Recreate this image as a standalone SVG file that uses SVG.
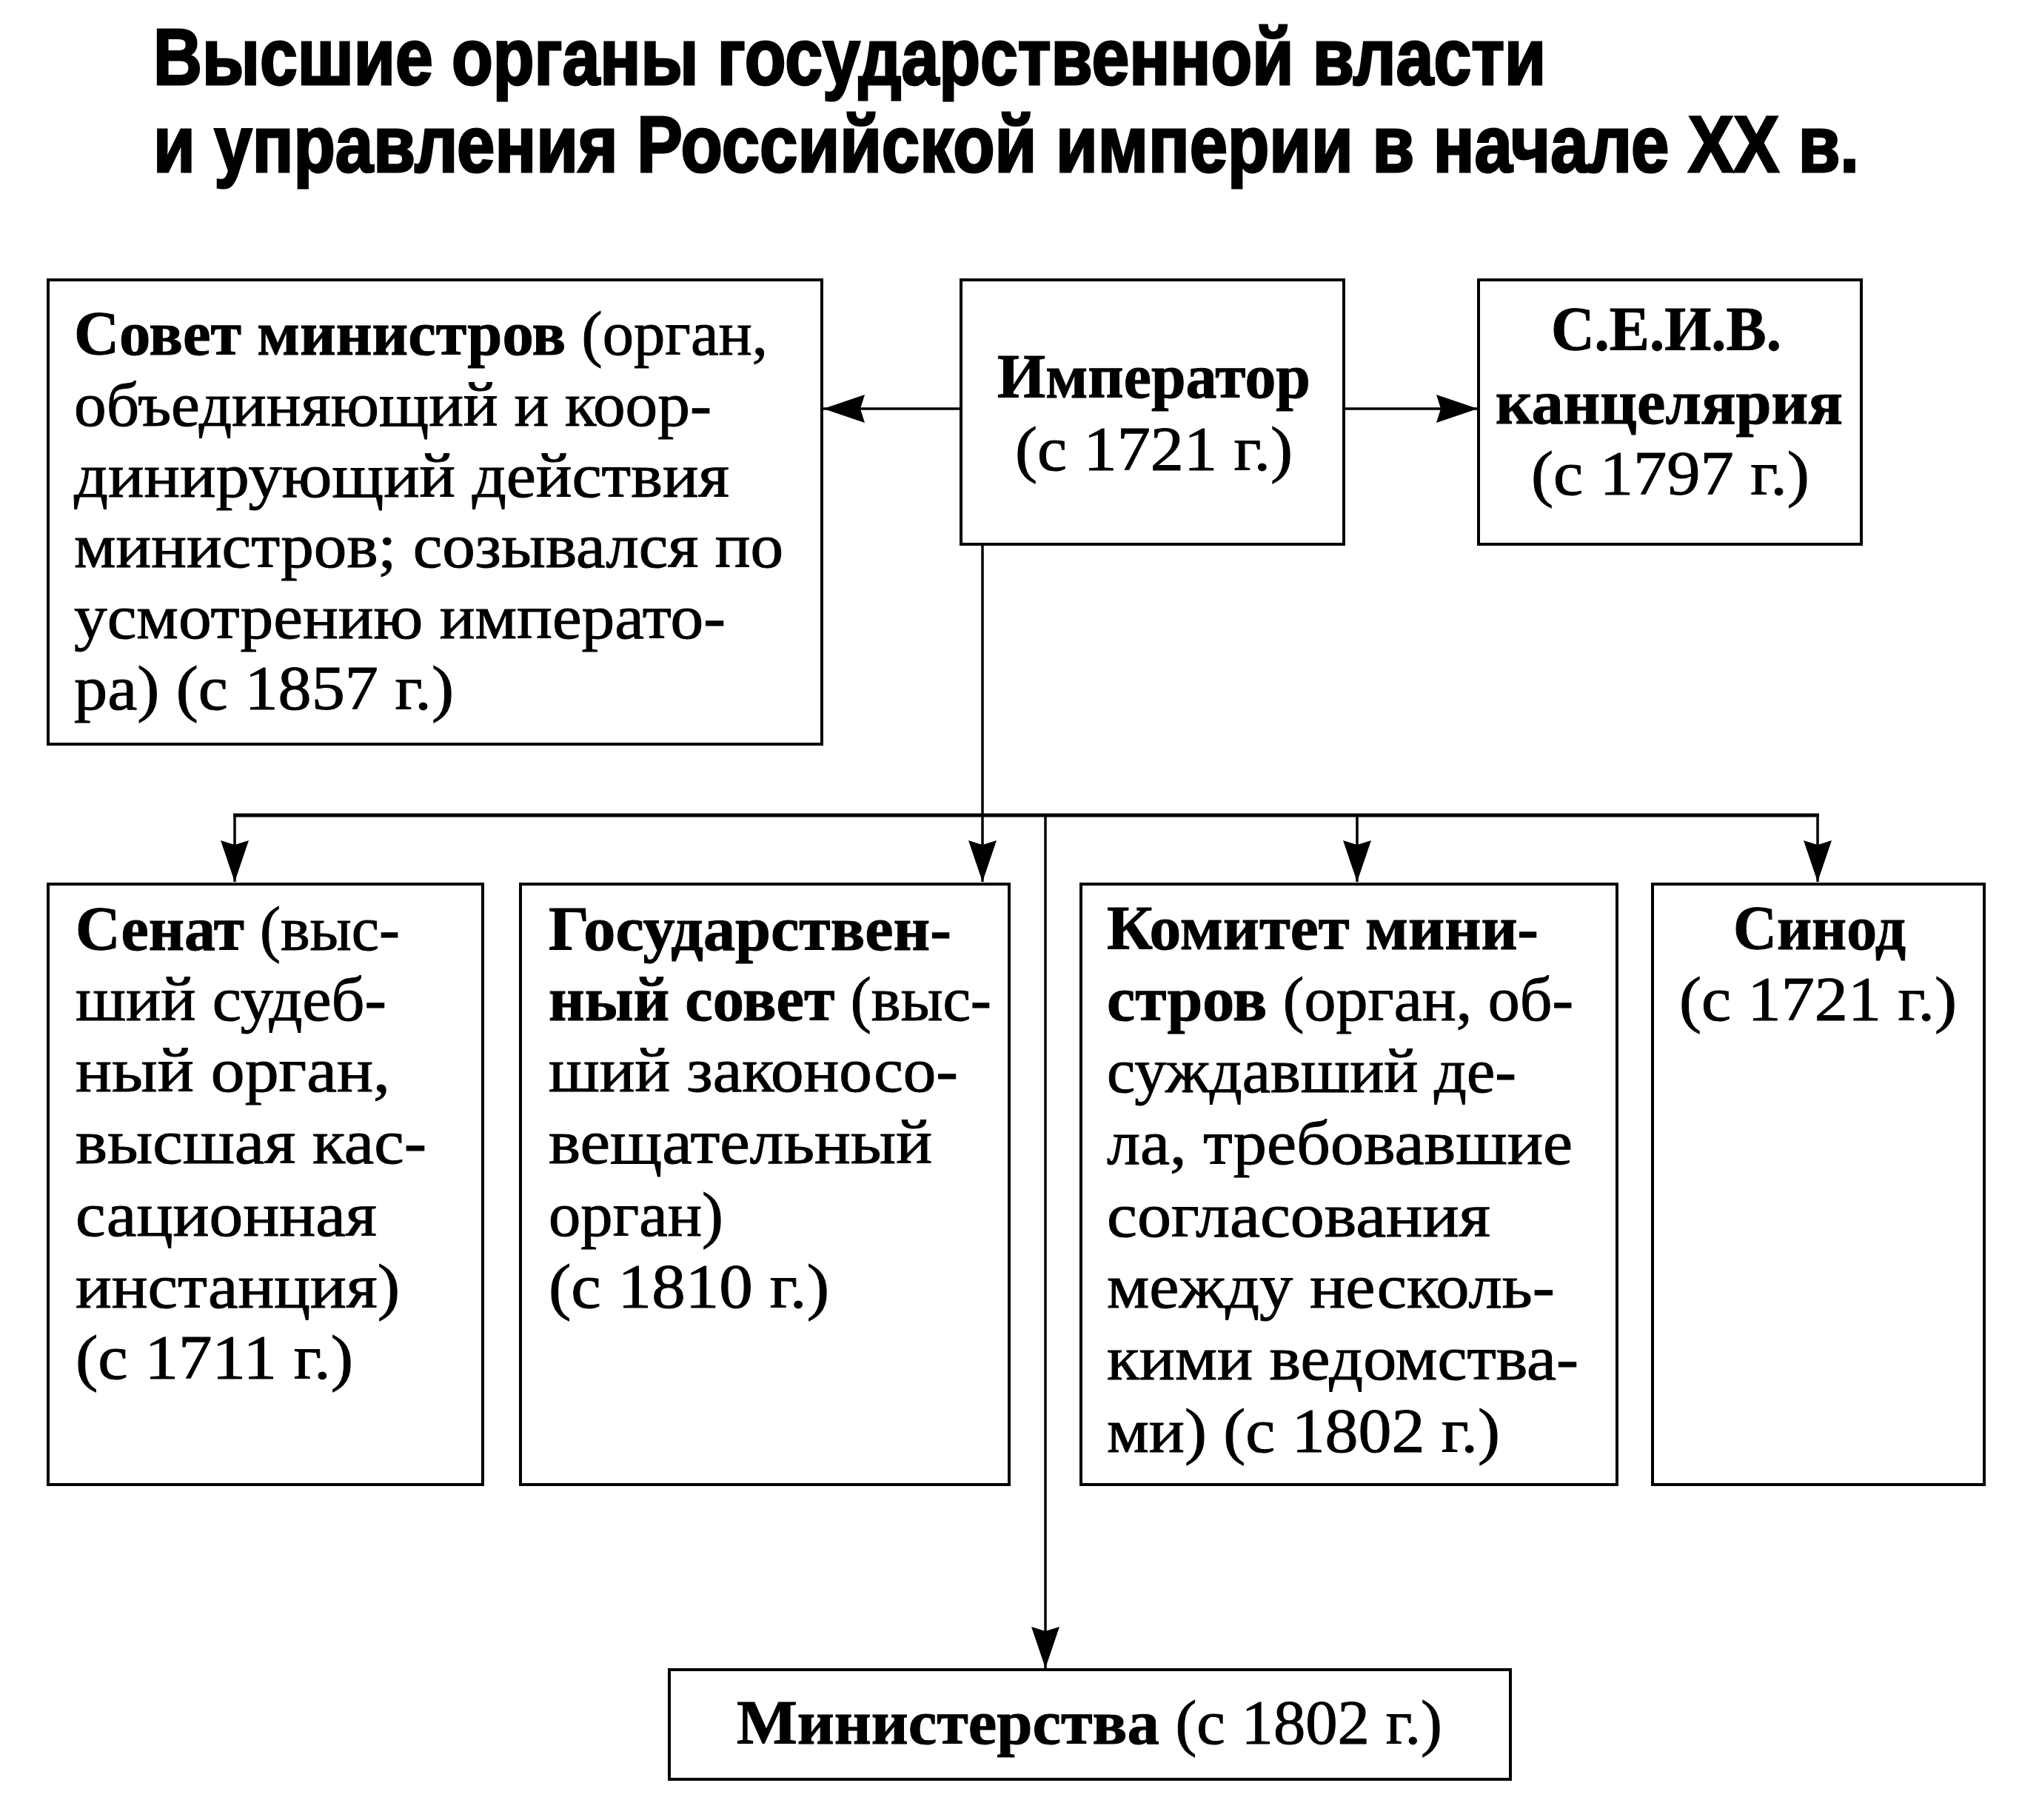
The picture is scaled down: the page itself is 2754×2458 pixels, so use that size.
<svg xmlns="http://www.w3.org/2000/svg" width="2754" height="2458" viewBox="0 0 2754 2458">
<style>
.box{fill:#fff;stroke:#000;stroke-width:4}
.t{font-family:"Liberation Serif","DejaVu Serif",serif;font-size:85px;fill:#000;stroke:#000;stroke-width:1}
.b{font-weight:bold}
.title{font-family:"Liberation Sans","DejaVu Sans",sans-serif;font-size:107px;font-weight:bold;fill:#000;stroke:#000;stroke-width:3}
.ln{fill:none;stroke:#000;stroke-width:3.5}
.bus{fill:none;stroke:#000;stroke-width:5}
</style>
<defs>
<marker id="ah" markerUnits="userSpaceOnUse" markerWidth="58" markerHeight="40" refX="56" refY="19" orient="auto" viewBox="0 0 58 40">
<path d="M0,0 L56,19 L0,38 L6,19 Z" fill="#000"/>
</marker>
</defs>
<rect width="2754" height="2458" fill="#fff"/>

<g id="title">
<text class="title" x="207" y="114" textLength="1881" lengthAdjust="spacingAndGlyphs">Высшие органы государственной власти</text>
<text class="title" x="207" y="232" textLength="2304" lengthAdjust="spacingAndGlyphs">и управления Российской империи в начале XX в.</text>
</g>

<g id="connectors">
<line class="ln" x1="1298" y1="552" x2="1112" y2="552" marker-end="url(#ah)"/>
<line class="ln" x1="1815" y1="552" x2="1996" y2="552" marker-end="url(#ah)"/>
<line class="ln" x1="1327" y1="735" x2="1327" y2="1191" marker-end="url(#ah)"/>
<line class="bus" x1="315" y1="1101" x2="2457" y2="1101"/>
<line class="ln" x1="317" y1="1101" x2="317" y2="1191" marker-end="url(#ah)"/>
<line class="ln" x1="1833" y1="1101" x2="1833" y2="1191" marker-end="url(#ah)"/>
<line class="ln" x1="2455" y1="1101" x2="2455" y2="1191" marker-end="url(#ah)"/>
<line class="ln" x1="1412" y1="1101" x2="1412" y2="2253" marker-end="url(#ah)"/>
</g>

<g id="sovet-ministrov">
<rect class="box" x="65" y="378" width="1045" height="627"/>
<text class="t" x="100" y="479" textLength="937" lengthAdjust="spacingAndGlyphs"><tspan class="b">Совет министров</tspan> (орган,</text>
<text class="t" x="100" y="575" textLength="861" lengthAdjust="spacingAndGlyphs">объединяющий и коор-</text>
<text class="t" x="100" y="671" textLength="885" lengthAdjust="spacingAndGlyphs">динирующий действия</text>
<text class="t" x="100" y="766" textLength="958" lengthAdjust="spacingAndGlyphs">министров; созывался по</text>
<text class="t" x="100" y="862" textLength="880" lengthAdjust="spacingAndGlyphs">усмотрению императо-</text>
<text class="t" x="100" y="958" textLength="513" lengthAdjust="spacingAndGlyphs">ра) (с 1857 г.)</text>
</g>

<g id="imperator">
<rect class="box" x="1298" y="378" width="517" height="357"/>
<text class="t b" x="1347" y="537" textLength="423" lengthAdjust="spacingAndGlyphs">Император</text>
<text class="t" x="1371" y="635" textLength="375" lengthAdjust="spacingAndGlyphs">(с 1721 г.)</text>
</g>

<g id="seiv">
<rect class="box" x="1997" y="378" width="517" height="357"/>
<text class="t b" x="2095" y="473" textLength="311" lengthAdjust="spacingAndGlyphs">С.Е.И.В.</text>
<text class="t b" x="2020" y="572" textLength="469" lengthAdjust="spacingAndGlyphs">канцелярия</text>
<text class="t" x="2068" y="668" textLength="376" lengthAdjust="spacingAndGlyphs">(с 1797 г.)</text>
</g>

<g id="senat">
<rect class="box" x="65" y="1194" width="587" height="811"/>
<text class="t" x="102" y="1283" textLength="438" lengthAdjust="spacingAndGlyphs"><tspan class="b">Сенат</tspan> (выс-</text>
<text class="t" x="102" y="1378" textLength="420" lengthAdjust="spacingAndGlyphs">ший судеб-</text>
<text class="t" x="102" y="1474" textLength="425" lengthAdjust="spacingAndGlyphs">ный орган,</text>
<text class="t" x="102" y="1571" textLength="474" lengthAdjust="spacingAndGlyphs">высшая кас-</text>
<text class="t" x="102" y="1669" textLength="407" lengthAdjust="spacingAndGlyphs">сационная</text>
<text class="t" x="102" y="1766" textLength="438" lengthAdjust="spacingAndGlyphs">инстанция)</text>
<text class="t" x="102" y="1862" textLength="375" lengthAdjust="spacingAndGlyphs">(с 1711 г.)</text>
</g>

<g id="gos-sovet">
<rect class="box" x="703" y="1194" width="660" height="811"/>
<text class="t b" x="741" y="1283" textLength="544" lengthAdjust="spacingAndGlyphs">Государствен-</text>
<text class="t" x="741" y="1378" textLength="598" lengthAdjust="spacingAndGlyphs"><tspan class="b">ный совет</tspan> (выс-</text>
<text class="t" x="741" y="1474" textLength="553" lengthAdjust="spacingAndGlyphs">ший законосо-</text>
<text class="t" x="741" y="1571" textLength="518" lengthAdjust="spacingAndGlyphs">вещательный</text>
<text class="t" x="741" y="1669" textLength="236" lengthAdjust="spacingAndGlyphs">орган)</text>
<text class="t" x="741" y="1766" textLength="379" lengthAdjust="spacingAndGlyphs">(с 1810 г.)</text>
</g>

<g id="komitet-ministrov">
<rect class="box" x="1460" y="1194" width="724" height="811"/>
<text class="t b" x="1495" y="1282" textLength="583" lengthAdjust="spacingAndGlyphs">Комитет мини-</text>
<text class="t" x="1495" y="1378" textLength="630" lengthAdjust="spacingAndGlyphs"><tspan class="b">стров</tspan> (орган, об-</text>
<text class="t" x="1495" y="1475" textLength="553" lengthAdjust="spacingAndGlyphs">суждавший де-</text>
<text class="t" x="1495" y="1572" textLength="629" lengthAdjust="spacingAndGlyphs">ла, требовавшие</text>
<text class="t" x="1495" y="1670" textLength="518" lengthAdjust="spacingAndGlyphs">согласования</text>
<text class="t" x="1495" y="1766" textLength="605" lengthAdjust="spacingAndGlyphs">между несколь-</text>
<text class="t" x="1495" y="1863" textLength="637" lengthAdjust="spacingAndGlyphs">кими ведомства-</text>
<text class="t" x="1495" y="1961" textLength="531" lengthAdjust="spacingAndGlyphs">ми) (с 1802 г.)</text>
</g>

<g id="sinod">
<rect class="box" x="2232" y="1194" width="448" height="811"/>
<text class="t b" x="2341" y="1282" textLength="233" lengthAdjust="spacingAndGlyphs">Синод</text>
<text class="t" x="2268" y="1378" textLength="375" lengthAdjust="spacingAndGlyphs">(с 1721 г.)</text>
</g>

<g id="ministerstva">
<rect class="box" x="904" y="2255" width="1136" height="148"/>
<text class="t" x="995" y="2355" textLength="953" lengthAdjust="spacingAndGlyphs"><tspan class="b">Министерства</tspan> (с 1802 г.)</text>
</g>
</svg>
